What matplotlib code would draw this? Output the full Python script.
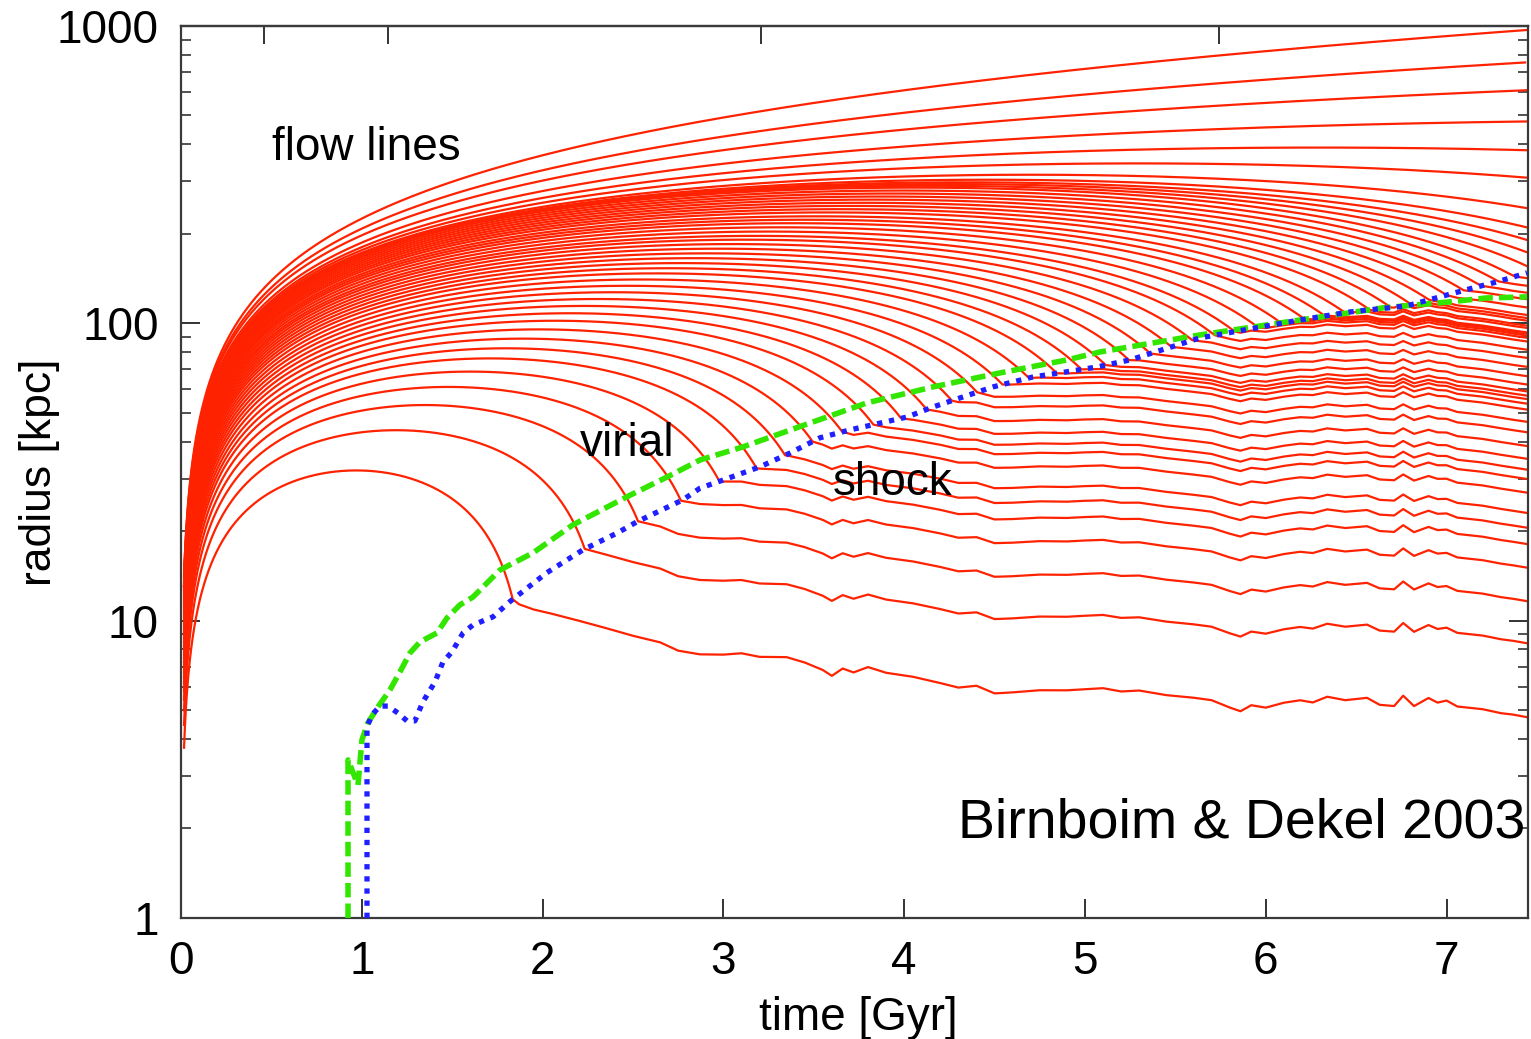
import numpy as np
import matplotlib
matplotlib.use("Agg")
import matplotlib.pyplot as plt
from matplotlib.ticker import LogLocator, NullFormatter

plt.rcParams['font.family'] = ['Liberation Sans', 'DejaVu Sans']

# first snapshot and end of the run [Gyr]
t_start = 0.017
t_end = 7.45

# bound shells: turnaround time [Gyr] and turnaround radius [kpc]
shell_t_ta = [0.97, 1.19, 1.35, 1.48, 1.60, 1.71, 1.80, 1.89, 1.98, 2.07,
              2.15, 2.23, 2.31, 2.39, 2.47, 2.55, 2.63, 2.70, 2.77, 2.84,
              2.91, 2.98, 3.05, 3.12, 3.18, 3.25, 3.32, 3.39, 3.45, 3.51,
              3.58, 3.64, 3.70, 3.76, 3.82, 3.88, 3.94, 4.00, 4.06, 4.15,
              4.24, 4.34, 4.46, 4.7, 5.3, 6.3, 8.5, 15.7, 98.7]
shell_r_max = [32, 43.7, 53.1, 61.1, 68.8, 76.2, 82.4, 88.8, 95.4, 102.0,
               108.1, 114.4, 120.7, 127.2, 133.7, 140.4, 147.2, 153.2, 159.4, 165.6,
               171.9, 178.2, 184.7, 191.1, 196.8, 203.5, 210.3, 217.1, 223.0, 229.0,
               236.0, 242.0, 248.2, 254.3, 260.6, 266.9, 273.2, 279.6, 286.0, 290,
               294, 298, 304, 316, 345, 390, 482, 743, 2553]

# outermost shell, still expanding: r = A (cosh eta - 1), t = B (sinh eta - eta)
open_A = 398.6
open_B = 5.40

# innermost shell after it went through the shock
inner_t = [1.82, 1.87, 1.95, 2.05, 2.20, 2.35, 2.50, 2.65, 2.75, 2.87,
           3.00, 3.10, 3.20, 3.35, 3.45, 3.55, 3.60, 3.66, 3.72, 3.80,
           3.90, 4.05, 4.20, 4.30, 4.40, 4.50, 4.60, 4.75, 4.90, 5.00,
           5.10, 5.20, 5.30, 5.45, 5.60, 5.70, 5.80, 5.86, 5.92, 6.00,
           6.10, 6.19, 6.26, 6.34, 6.44, 6.56, 6.63, 6.71, 6.76, 6.82,
           6.90, 6.95, 7.00, 7.06, 7.20, 7.30, 7.37, 7.45]
inner_r = [11.6, 11.0, 10.6, 10.3, 9.8, 9.3, 8.8, 8.4, 7.9, 7.7,
           7.7, 7.8, 7.6, 7.6, 7.3, 6.9, 6.6, 7.0, 6.8, 7.1,
           6.8, 6.6, 6.3, 6.1, 6.2, 5.85, 5.9, 6.0, 6.0, 6.05,
           6.1, 5.95, 6.0, 5.8, 5.7, 5.6, 5.3, 5.15, 5.4, 5.3,
           5.5, 5.6, 5.5, 5.75, 5.6, 5.7, 5.4, 5.35, 5.8, 5.35,
           5.7, 5.5, 5.6, 5.35, 5.25, 5.1, 5.05, 4.95]

# virial radius
vir_t = [0.924, 0.924, 0.979, 1.001, 1.034, 1.090, 1.156, 1.211, 1.267, 1.322,
         1.416, 1.471, 1.543, 1.615, 1.764, 1.947, 2.168, 2.467, 2.688, 2.871,
         3.108, 3.479, 3.794, 4.159, 4.530, 4.900, 5.083, 5.636, 6.189, 6.648,
         7.019, 7.223, 7.445]
vir_r = [1.0, 3.40, 2.80, 3.97, 4.53, 5.13, 5.85, 6.72, 7.79, 8.48,
         9.09, 10.2, 11.3, 12.0, 14.8, 16.9, 21.0, 26.1, 30.4, 34.7,
         38.4, 46.2, 54.0, 61.1, 68.1, 75.3, 80.1, 91.4, 102.6, 112.7,
         118.1, 121.7, 122.7]

# shock radius
shock_t = [1.029, 1.029, 1.056, 1.101, 1.145, 1.200, 1.250, 1.294, 1.338, 1.405,
           1.449, 1.499, 1.560, 1.615, 1.726, 1.820, 2.024, 2.223, 2.412, 2.522,
           2.777, 2.871, 2.998, 3.202, 3.368, 3.534, 3.700, 4.016, 4.159, 4.491,
           4.712, 4.900, 5.066, 5.249, 5.636, 6.189, 6.466, 6.781, 6.963, 7.146,
           7.279, 7.445]
shock_r = [1.0, 4.39, 4.82, 5.16, 5.16, 4.89, 4.60, 4.60, 5.33, 6.22,
           7.26, 7.85, 9.09, 9.67, 10.3, 11.6, 14.5, 17.3, 19.7, 21.5,
           25.5, 27.9, 29.7, 32.9, 36.6, 41.2, 43.8, 48.4, 52.3, 61.1,
           66.0, 68.7, 71.3, 75.3, 89.3, 102.6, 109.2, 114.5, 122.7, 131.5,
           137.8, 147.8]

x_ticks = [0, 1, 2, 3, 4, 5, 6, 7]
y_ticks = [1, 10, 100, 1000]
top_ticks = [0.46, 1.145, 3.21, 5.74]

RED = '#ff2200'

inner_t = np.array(inner_t)
inner_logr = np.log10(inner_r)
shock_logr = np.log10(shock_r)

# split the inner track into a slow trend and the jitter around it
kernel = np.ones(7) / 7
inner_trend = np.convolve(np.pad(inner_logr, 3, mode='edge'), kernel, mode='valid')
inner_jitter = inner_logr - inner_trend


def shock_radius(t):
    return 10 ** np.interp(t, shock_t, shock_logr)


def flow_line(t_pre, r_pre):
    # stop the infall where it meets the shock, then settle like the inner shell
    falling = np.r_[False, np.diff(r_pre) < 0]
    hit = np.nonzero(falling & (r_pre <= shock_radius(t_pre)))[0]
    if len(hit) == 0:
        return t_pre, r_pre
    i = hit[0]
    t_sh = t_pre[i]
    r_sh = shock_radius(t_sh)
    later = inner_t > t_sh
    damp = (inner_r[0] / r_sh) ** 0.45
    trend = inner_trend[later] - np.interp(t_sh, inner_t, inner_trend)
    jitter = inner_jitter[later] - np.interp(t_sh, inner_t, inner_jitter)
    r_post = r_sh * 10 ** (1.1 * trend + damp * jitter)
    return np.r_[t_pre[:i], t_sh, inner_t[later]], np.r_[r_pre[:i], r_sh, r_post]


fig = plt.figure(figsize=(15.31, 10.39), dpi=100)
ax = fig.add_axes([0.1182, 0.1165, 0.8798, 0.8585])

theta = np.linspace(0, 2 * np.pi, 6000)
for t_ta, r_max in zip(shell_t_ta, shell_r_max):
    t = t_ta / np.pi * (theta - np.sin(theta))
    r = 0.5 * r_max * (1 - np.cos(theta))
    keep = (t >= t_start) & (t <= t_end)
    tt, rr = flow_line(t[keep], r[keep])
    ax.plot(tt, rr, color=RED, lw=1.6, zorder=2)

eta = np.linspace(0, 2.2, 3000)
t = open_B * (np.sinh(eta) - eta)
r = open_A * (np.cosh(eta) - 1)
keep = (t >= t_start) & (t <= t_end)
ax.plot(t[keep], r[keep], color=RED, lw=1.6, zorder=2)

ax.plot(vir_t, vir_r, color='#33e600', lw=4.0, linestyle=(0, (2.6, 1.1)), zorder=3)
ax.plot(shock_t, shock_r, color='#1f1fff', lw=3.8, linestyle=(0, (1.0, 1.3)), zorder=4)

ax.set_yscale('log')
ax.set_xlim(0, t_end)
ax.set_ylim(1, 1000)

ax.set_xticks(x_ticks)
ax.set_xticklabels([str(v) for v in x_ticks])
ax.set_yticks(y_ticks)
ax.set_yticklabels([str(v) for v in y_ticks])
ax.yaxis.set_minor_locator(LogLocator(base=10, subs=np.arange(2, 10)))
ax.yaxis.set_minor_formatter(NullFormatter())

ax.tick_params(which='major', direction='in', length=14, width=1.4, color='#333333',
               labelsize=33, pad=16, right=True, top=False)
ax.tick_params(which='minor', direction='in', length=7, width=1.2, color='#333333',
               right=True, top=False)

sec = ax.secondary_xaxis('top')
sec.set_xticks(top_ticks)
sec.tick_params(direction='in', length=13, width=1.4, color='#333333', labeltop=False)
sec.spines['top'].set_color('#3a3a3a')
sec.spines['top'].set_linewidth(1.6)

for s in ax.spines.values():
    s.set_color('#3a3a3a')
    s.set_linewidth(1.6)

ax.set_xlabel('time [Gyr]', fontsize=33)
ax.xaxis.set_label_coords(0.5026, -0.088)
ax.set_ylabel('radius [kpc]', fontsize=32)
ax.yaxis.set_label_coords(-0.09, 0.5)

ax.text(0.503, 354, 'flow lines', fontsize=33, ha='left', va='baseline')
ax.text(2.207, 35.8, 'virial', fontsize=33, ha='left', va='baseline', zorder=5)
ax.text(3.606, 26.5, 'shock', fontsize=33, ha='left', va='baseline', zorder=5)
ax.text(0.9978, 0.0897, 'Birnboim & Dekel 2003', transform=ax.transAxes,
        fontsize=40, ha='right', va='baseline', zorder=5)

fig.savefig('out.png', dpi=100)
